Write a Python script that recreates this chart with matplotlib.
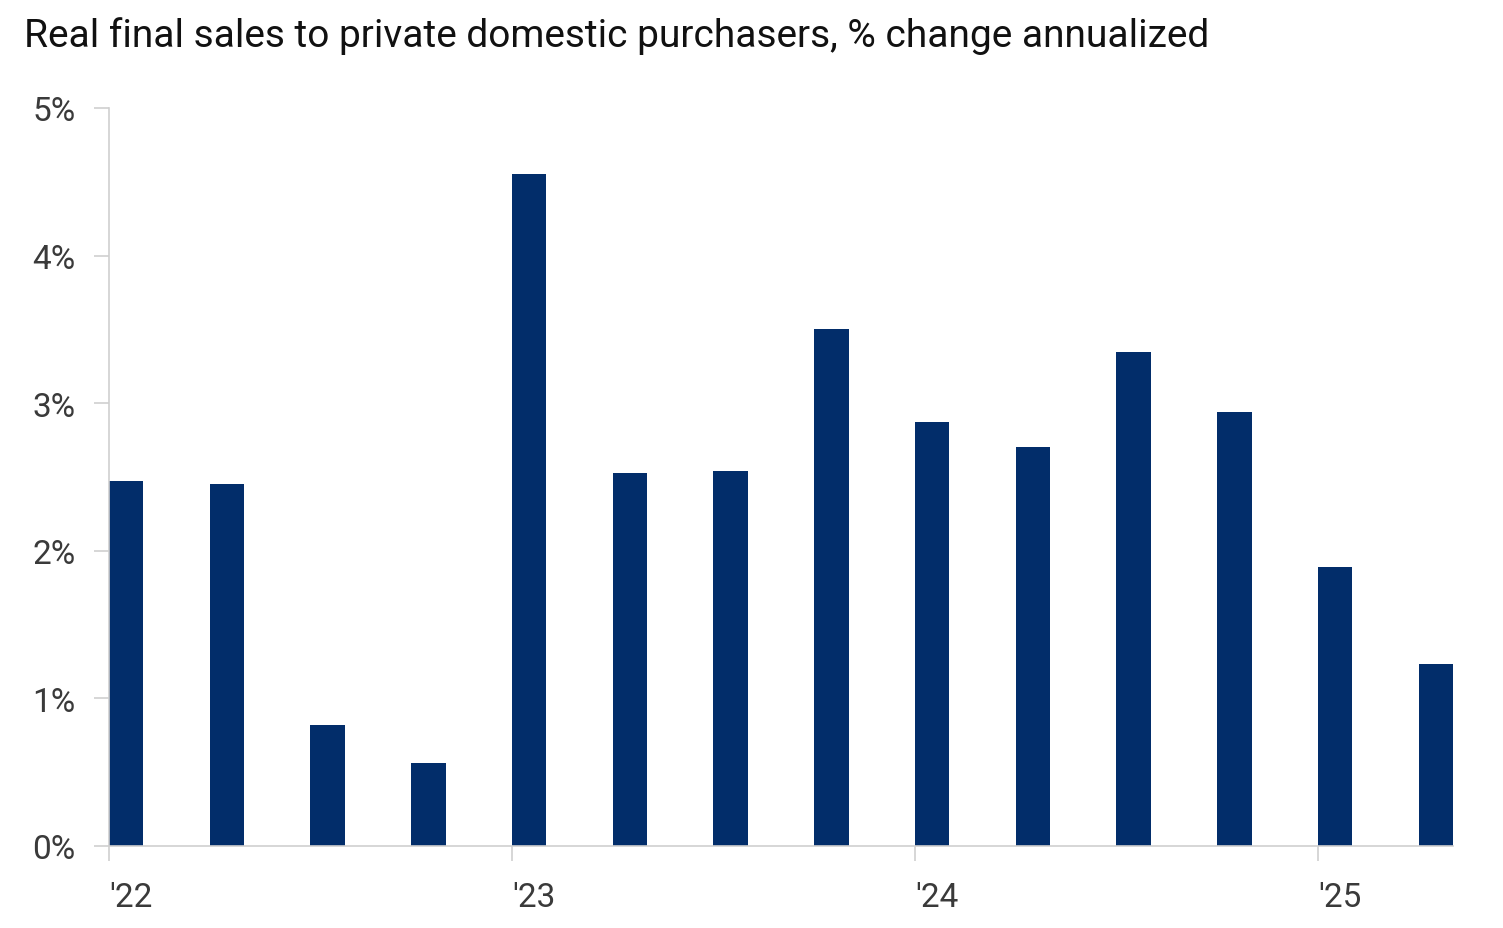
import matplotlib.pyplot as plt
from matplotlib.ticker import FuncFormatter

plt.rcParams['font.family'] = ['Roboto', 'DejaVu Sans']

# quarterly, Q1 2022 .. Q2 2025
quarters = ['Q1 22', 'Q2 22', 'Q3 22', 'Q4 22',
            'Q1 23', 'Q2 23', 'Q3 23', 'Q4 23',
            'Q1 24', 'Q2 24', 'Q3 24', 'Q4 24',
            'Q1 25', 'Q2 25']
values = [2.47, 2.45, 0.82, 0.56,
          4.55, 2.53, 2.54, 3.50,
          2.87, 2.70, 3.35, 2.94,
          1.89, 1.23]
year_ticks = [0, 4, 8, 12]
year_labels = ["'22", "'23", "'24", "'25"]

navy = '#022d6a'
grey = '#cfcfcf'

fig = plt.figure(figsize=(15.03, 9.29), dpi=100)
ax = fig.add_axes([109 / 1503, 1 - 847 / 929, (1453 - 109) / 1503, (847 - 109) / 929])

ax.bar(range(len(values)), values, width=0.34, align='edge', color=navy)

ax.set_xlim(0, len(values) - 1 + 0.34)
ax.set_ylim(0, 5)
ax.set_yticks(range(0, 6))
ax.yaxis.set_major_formatter(FuncFormatter(lambda v, p: f'{v:.0f}%'))
ax.set_xticks(year_ticks)
ax.set_xticklabels(year_labels, ha='left')

for s in ['top', 'right']:
    ax.spines[s].set_visible(False)
for s in ['left', 'bottom']:
    ax.spines[s].set_color(grey)
    ax.spines[s].set_linewidth(1.2)

ax.tick_params(axis='y', length=11, width=1.2, color=grey, pad=13,
               labelsize=24, labelcolor='#3a3a3a')
ax.tick_params(axis='x', length=11, width=1.2, color=grey, pad=14,
               labelsize=24, labelcolor='#3a3a3a')

fig.text(24 / 1503, 1 - 36 / 929, 'Real final sales to private domestic purchasers, % change annualized',
         fontsize=28, color='#111111', va='center', ha='left')

fig.savefig('out.png', dpi=100, facecolor='white')
